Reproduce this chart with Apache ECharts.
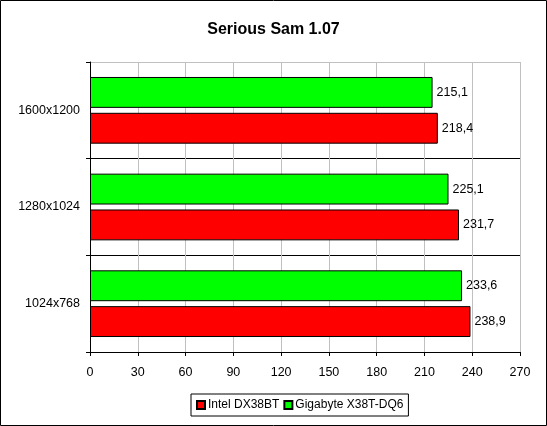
<!DOCTYPE html>
<html><head><meta charset="utf-8">
<script src="https://cdn.jsdelivr.net/npm/echarts@6/dist/echarts.min.js"></script>
<style>html,body{margin:0;padding:0;background:#fff}#c{width:547px;height:426px}</style>
</head><body><div id="c"></div>
<script>
const categories = ['1024x768', '1280x1024', '1600x1200'];
const intelValues = [238.9, 231.7, 218.4];
const gigabyteValues = [233.6, 225.1, 215.1];
const seriesNames = ['Intel DX38BT', 'Gigabyte X38T-DQ6'];
const xTicks = { min: 0, max: 270, interval: 30 };

const FONT = '"Liberation Sans", Arial, sans-serif';
const chart = echarts.init(document.getElementById('c'));
const fmt = p => String(p.value).replace('.', ',');
const lbl = { show: true, position: 'right', distance: 4, color: '#000', fontFamily: FONT, fontSize: 12.5, formatter: fmt };

chart.setOption({
  animation: false,
  backgroundColor: '#fff',
  title: { text: 'Serious Sam 1.07', left: 'center', top: 17, textStyle: { fontFamily: FONT, fontSize: 16, fontWeight: 'bold', color: '#000' } },
  graphic: [{ type: 'rect', shape: { x: 0.5, y: 0.5, width: 546, height: 425 }, style: { fill: 'none', stroke: '#000', lineWidth: 1 }, silent: true }],
  legend: {
    data: seriesNames, left: 191, top: 394, orient: 'horizontal',
    padding: [5, 5, 5, 5], itemGap: 4, itemWidth: 8, itemHeight: 8, icon: 'rect',
    borderColor: '#000', borderWidth: 1, borderRadius: 0,
    textStyle: { fontFamily: FONT, fontSize: 12, color: '#000', padding: [0, 0, 0, -2] }
  },
  grid: { left: 90, right: 27, top: 62, bottom: 74, containLabel: false },
  xAxis: {
    type: 'value', min: xTicks.min, max: xTicks.max, interval: xTicks.interval,
    axisLine: { show: true, lineStyle: { color: '#000', width: 1 } },
    axisTick: { show: true, length: 4, inside: false, lineStyle: { color: '#000' } },
    axisLabel: { fontFamily: FONT, fontSize: 12.5, color: '#000', margin: 14 },
    splitLine: { show: true, lineStyle: { color: '#c0c0c0', width: 1 } }
  },
  yAxis: {
    type: 'category', data: categories,
    axisLine: { show: true, lineStyle: { color: '#000', width: 1 } },
    axisTick: { show: true, length: 4, lineStyle: { color: '#000' } },
    axisLabel: { fontFamily: FONT, fontSize: 12.5, color: '#000', margin: 10 },
    splitLine: { show: true, lineStyle: { color: ['#000', '#000', '#000', '#c0c0c0'], width: 1 } }
  },
  series: [
    { name: seriesNames[1], type: 'bar', data: gigabyteValues, barCategoryGap: '31%', barGap: '16%',
      itemStyle: { color: '#00ff00', borderColor: '#000', borderWidth: 1 }, label: lbl },
    { name: seriesNames[0], type: 'bar', data: intelValues, barCategoryGap: '31%', barGap: '16%',
      itemStyle: { color: '#ff0000', borderColor: '#000', borderWidth: 1 }, label: lbl }
  ]
});
</script></body></html>
